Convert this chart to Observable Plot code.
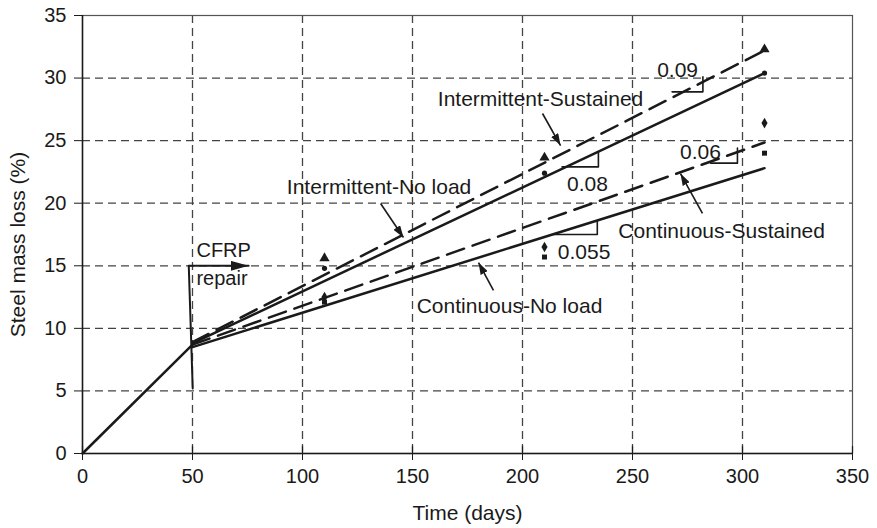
<!DOCTYPE html>
<html><head><meta charset="utf-8">
<script src="https://cdn.jsdelivr.net/npm/d3@7"></script>
<script src="https://cdn.jsdelivr.net/npm/@observablehq/plot@0.6"></script>
<style>body{margin:0;background:#fff;}</style>
</head><body><div id="chart"></div>
<script>
// ---- data ----
const xTicks = [0, 50, 100, 150, 200, 250, 300, 350];
const yTicks = [0, 5, 10, 15, 20, 25, 30, 35];
const xGridVals = [50, 100, 150, 200, 250, 300];
const yGridVals = [5, 10, 15, 20, 25, 30];

const preRepairDays = [0, 50];
const preRepairLoss = [0, 8.7];

const seriesNames = ["Intermittent-Sustained", "Intermittent-No load", "Continuous-Sustained", "Continuous-No load"];
const fitDays = [50, 310];
const fitStartLoss = [8.9, 8.8, 8.7, 8.5];
const fitEndLoss = [32.2, 30.4, 24.85, 22.8];

const measDays = [110, 210, 310];
const measIntSustained = [15.6, 23.65, 32.3];
const measIntNoLoad = [14.8, 22.4, 30.4];
const measContSustained = [12.5, 16.5, 26.4];
const measContNoLoad = [12.1, 15.7, 24.0];

// slope indicators
const slopeLabels = ["0.09", "0.08", "0.06", "0.055"];
const slopeX0 = [268, 218, 285.5, 214];
const slopeX1 = [282, 234.5, 297.7, 234];
const slopeY0 = [28.9, 22.9, 23.2, 17.5];
const slopeY1 = [30.1, 24.1, 24.4, 18.6];
const slopeLabelX = [270.5, 229.5, 280.9, 228];
const slopeLabelY = [30.66, 21.55, 24.11, 16.12];

// series labels and arrows
const labelX = [208.2, 134.8, 290.5, 194.1];
const labelY = [28.34, 21.31, 17.72, 11.8];
const arrowX1 = [209.1, 135.5, 281.8, 186.8];
const arrowY1 = [27.17, 19.98, 19.18, 13.03];
const arrowX2 = [217.3, 145.9, 271.8, 180];
const arrowY2 = [24.61, 17.26, 22.37, 15.26];

// CFRP repair marker
const repairDays = [50.1, 48.3, 75.5];
const repairLoss = [5.2, 15, 15];
const repairText = ["CFRP", "repair"];
const repairTextX = [51.8, 51.8];
const repairTextY = [16.2, 13.96];

// ---- build tables ----
const fitLines = seriesNames.flatMap((s, i) => [
  {series: s, day: fitDays[0], loss: fitStartLoss[i]},
  {series: s, day: fitDays[1], loss: fitEndLoss[i]}
]);
const preRepair = preRepairDays.map((d, i) => ({day: d, loss: preRepairLoss[i]}));
const measSets = [
  ["triangle", measIntSustained, 3.8],
  ["circle", measIntNoLoad, 2.6],
  ["diamond", measContSustained, 3.2],
  ["square", measContNoLoad, 2.8]
];
const slopePaths = slopeLabels.flatMap((l, i) => [
  {k: l, x: slopeX0[i], y: slopeY0[i]},
  {k: l, x: slopeX1[i], y: slopeY0[i]},
  {k: l, x: slopeX1[i], y: slopeY1[i]}
]);
const slopeText = slopeLabels.map((l, i) => ({t: l, x: slopeLabelX[i], y: slopeLabelY[i]}));
const seriesText = seriesNames.map((s, i) => ({t: s, x: labelX[i], y: labelY[i]}));
const arrows = seriesNames.map((s, i) => ({x1: arrowX1[i], y1: arrowY1[i], x2: arrowX2[i], y2: arrowY2[i]}));
const repairPath = repairDays.map((d, i) => ({x: d, y: repairLoss[i]}));
const repairLabels = repairText.map((t, i) => ({t, x: repairTextX[i], y: repairTextY[i]}));

function filledArrow(len, wid) {
  return (color) => {
    const m = d3.create("svg:marker")
      .attr("viewBox", `0 ${-wid / 2} ${len} ${wid}`)
      .attr("markerUnits", "userSpaceOnUse")
      .attr("markerWidth", len)
      .attr("markerHeight", wid)
      .attr("refX", len)
      .attr("refY", 0)
      .attr("orient", "auto");
    m.append("path").attr("d", `M0,${-wid / 2}L${len},0L0,${wid / 2}Z`).attr("fill", color).attr("stroke", "none");
    return m.node();
  };
}

const font = "'Liberation Sans', Arial, Helvetica, sans-serif";
const ink = "#1a1a1a";

const marks = [
  Plot.gridX(xGridVals, {stroke: "#444", strokeOpacity: 1, strokeWidth: 1.3, strokeDasharray: "8,5"}),
  Plot.gridY(yGridVals, {stroke: "#444", strokeOpacity: 1, strokeWidth: 1.3, strokeDasharray: "8,5"}),
  Plot.frame({stroke: "#555", strokeWidth: 1.2}),
  Plot.ruleX([0], {stroke: ink, strokeWidth: 1.5}),
  Plot.ruleY([0], {stroke: ink, strokeWidth: 1.5}),
  Plot.ruleX(xTicks, {y1: 0, y2: 0.55, stroke: ink, strokeWidth: 1.2}),
  Plot.axisX({ticks: xTicks, tickSize: 7, tickPadding: 8, tickFormat: d => d, fontSize: 20, fill: ink, label: null, stroke: ink}),
  Plot.axisY({ticks: yTicks, tickSize: 8, tickPadding: 8, tickFormat: d => d, fontSize: 20, fill: ink, label: null, stroke: ink}),
  Plot.text(["Time (days)"], {frameAnchor: "bottom", lineAnchor: "middle", textAnchor: "middle", dy: 59.6, fontSize: 21, fill: ink}),
  Plot.text(["Steel mass loss (%)"], {frameAnchor: "left", lineAnchor: "middle", textAnchor: "middle", dx: -64, dy: 10, rotate: -90, fontSize: 21, fill: ink}),
  Plot.line(preRepair, {x: "day", y: "loss", stroke: ink, strokeWidth: 2.5}),
  Plot.line(fitLines.filter(d => d.series.includes("No load")), {x: "day", y: "loss", z: "series", stroke: ink, strokeWidth: 2.5}),
  Plot.line(fitLines.filter(d => d.series.includes("Sustained")), {x: "day", y: "loss", z: "series", stroke: ink, strokeWidth: 2.5, strokeDasharray: "18,9"}),
  ...measSets.map(([sym, vals, r]) => Plot.dot(measDays.map((d, i) => ({day: d, loss: vals[i]})), {x: "day", y: "loss", symbol: sym, r, fill: ink, stroke: "none"})),
  Plot.line(slopePaths, {x: "x", y: "y", z: "k", stroke: ink, strokeWidth: 1.6}),
  Plot.text(slopeText, {x: "x", y: "y", text: "t", fontSize: 21, fill: ink}),
  Plot.text(seriesText, {x: "x", y: "y", text: "t", fontSize: 21, fill: ink}),
  Plot.link(arrows, {x1: "x1", y1: "y1", x2: "x2", y2: "y2", stroke: ink, strokeWidth: 1.6, markerEnd: filledArrow(12, 8)}),
  Plot.line(repairPath, {x: "x", y: "y", stroke: ink, strokeWidth: 2, markerEnd: filledArrow(18, 10)}),
  Plot.text(repairLabels, {x: "x", y: "y", text: "t", textAnchor: "start", fontSize: 20, fill: ink})
];

const chart = Plot.plot({
  width: 877,
  height: 528,
  marginLeft: 82,
  marginRight: 25,
  marginTop: 15,
  marginBottom: 75,
  style: {fontFamily: font, background: "#fff", color: ink},
  x: {domain: [0, 350]},
  y: {domain: [0, 35]},
  marks
});
document.getElementById("chart").appendChild(chart);
</script>
</body></html>
